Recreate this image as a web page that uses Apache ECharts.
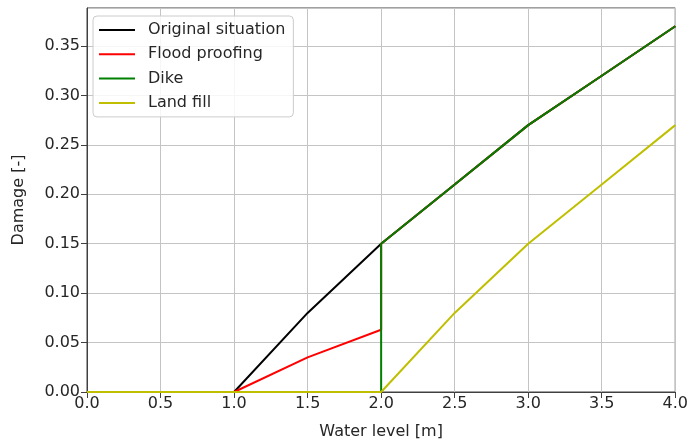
<!DOCTYPE html>
<html>
<head>
<meta charset="utf-8">
<script src="https://cdn.jsdelivr.net/npm/echarts@6/dist/echarts.min.js"></script>
<style>
html,body{margin:0;padding:0;background:#fff;}
#chart{width:691px;height:445px;}
</style>
</head>
<body>
<div id="chart"></div>
<script>
// Data
var seriesNames = ['Original situation', 'Flood proofing', 'Dike', 'Land fill'];
var originalX = [0, 0.5, 1, 1.5, 2, 2.5, 3, 3.5, 4];
var originalY = [0, 0, 0, 0.08, 0.15, 0.21, 0.27, 0.32, 0.37];
var floodX = [0, 0.5, 1, 1.5, 2, 2, 2.5, 3, 3.5, 4];
var floodY = [0, 0, 0, 0.035, 0.063, 0.15, 0.21, 0.27, 0.32, 0.37];
var dikeX = [0, 0.5, 1, 1.5, 2, 2, 2.5, 3, 3.5, 4];
var dikeY = [0, 0, 0, 0, 0, 0.15, 0.21, 0.27, 0.32, 0.37];
var landX = [0, 0.5, 1, 1.5, 2, 2.5, 3, 3.5, 4];
var landY = [0, 0, 0, 0, 0, 0.08, 0.15, 0.21, 0.27];

function pairs(xs, ys) { return xs.map(function (x, i) { return [x, ys[i]]; }); }

var colors = ['#000000', '#ff0000', '#008000', '#bfbf00'];
var font = 'DejaVu Sans';
var chart = echarts.init(document.getElementById('chart'), null, {renderer: 'canvas'});

function mk(name, xs, ys, c) {
  return {
    name: name, type: 'line', data: pairs(xs, ys), showSymbol: false, symbol: 'none',
    lineStyle: {color: c, width: 2}, itemStyle: {color: c}, animation: false
  };
}

chart.setOption({
  animation: false,
  backgroundColor: '#ffffff',
  grid: {left: 87, right: 9, top: 8, bottom: 52, show: true, borderColor: '#404040', borderWidth: 1, containLabel: false},
  legend: {
    orient: 'vertical', left: 93, top: 16,
    data: seriesNames,
    icon: 'rect', itemWidth: 36, itemHeight: 2, itemGap: 6.3,
    padding: [5, 8, 5, 6],
    backgroundColor: 'rgba(255,255,255,0.85)', borderColor: '#cccccc', borderWidth: 1, borderRadius: 4,
    textStyle: {fontFamily: font, fontSize: 16, color: '#262626', lineHeight: 18, padding: [0, 0, 0, 8]}
  },
  xAxis: {
    type: 'value', min: 0, max: 4, interval: 0.5,
    name: 'Water level [m]', nameLocation: 'middle', nameGap: 32,
    nameTextStyle: {fontFamily: font, fontSize: 16, color: '#262626'},
    axisLine: {show: true, lineStyle: {color: '#404040', width: 1}},
    axisTick: {show: true, inside: false, length: 6, lineStyle: {color: '#404040'}},
    axisLabel: {fontFamily: font, fontSize: 16, color: '#262626', margin: 4, formatter: function (v) { return v.toFixed(1); }},
    splitLine: {show: true, lineStyle: {color: '#c4c4c4', width: 1}}
  },
  yAxis: {
    type: 'value', min: 0, max: 0.3885, interval: 0.05,
    name: 'Damage [-]', nameLocation: 'middle', nameGap: 60, nameRotate: 90,
    nameTextStyle: {fontFamily: font, fontSize: 16, color: '#262626'},
    axisLine: {show: true, lineStyle: {color: '#404040', width: 1}},
    axisTick: {show: true, inside: false, length: 6, lineStyle: {color: '#404040'}},
    axisLabel: {fontFamily: font, fontSize: 16, color: '#262626', margin: 7, showMaxLabel: false,
      formatter: function (v) { return v.toFixed(2); }},
    splitLine: {show: true, lineStyle: {color: '#c4c4c4', width: 1}}
  },
  series: [
    mk(seriesNames[0], originalX, originalY, colors[0]),
    mk(seriesNames[1], floodX, floodY, colors[1]),
    mk(seriesNames[2], dikeX, dikeY, colors[2]),
    mk(seriesNames[3], landX, landY, colors[3])
  ]
});
</script>
</body>
</html>
